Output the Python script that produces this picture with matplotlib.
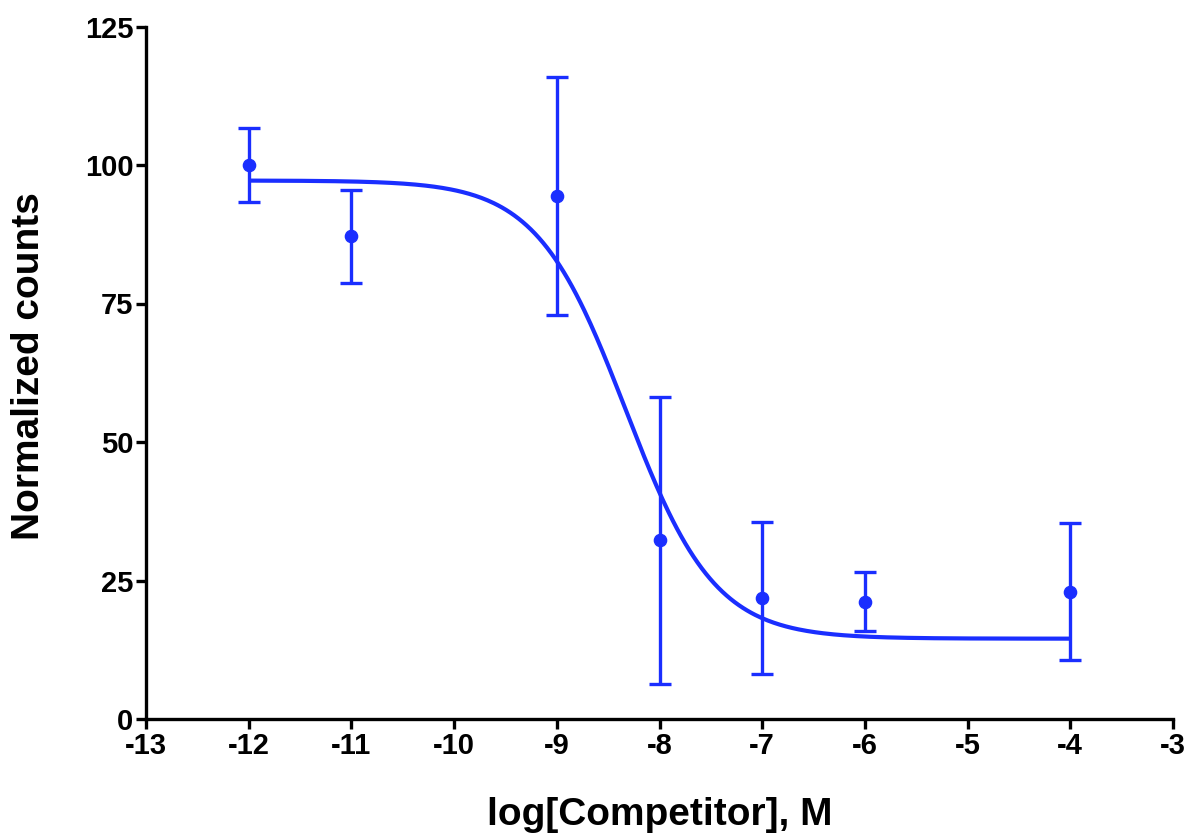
import numpy as np
import matplotlib
matplotlib.use("Agg")
import matplotlib.pyplot as plt

# Data
log_conc = [-12, -11, -9, -8, -7, -6, -4]
mean_counts = [100.0, 87.1, 94.4, 32.3, 21.9, 21.2, 23.0]
err_counts = [6.6, 8.4, 21.4, 25.9, 13.7, 5.3, 12.4]

# Fitted 4-parameter logistic (competition curve) parameters
fit_top = 97.2
fit_bottom = 14.5
fit_logic50 = -8.33
fit_hill = -1.0
fit_range = (-12, -4)

x_ticks = [-13, -12, -11, -10, -9, -8, -7, -6, -5, -4, -3]
y_ticks = [0, 25, 50, 75, 100, 125]

blue = "#1a2eff"

plt.rcParams['font.family'] = ['Liberation Sans', 'DejaVu Sans']
plt.rcParams['font.weight'] = 'bold'

W, H = 1190, 833
fig = plt.figure(figsize=(W / 100, H / 100), dpi=100)
left, right, top, bottom = 146, 1173, 26.5, 719
ax = fig.add_axes([left / W, 1 - bottom / H, (right - left) / W, (bottom - top) / H])

xf = np.linspace(fit_range[0], fit_range[1], 400)
yf = fit_bottom + (fit_top - fit_bottom) / (1 + 10 ** ((fit_logic50 - xf) * fit_hill))
ax.plot(xf, yf, color=blue, lw=3.0, solid_capstyle='butt', zorder=2)

ax.errorbar(log_conc, mean_counts, yerr=err_counts, fmt='o', color=blue,
            ms=8.8, elinewidth=2.4, capsize=8, capthick=2.4, zorder=3,
            clip_on=False)

ax.set_xlim(-13, -3)
ax.set_ylim(0, 125)
ax.set_xticks(x_ticks)
ax.set_yticks(y_ticks)
ax.set_xticklabels([str(t) for t in x_ticks])
ax.set_yticklabels([str(t) for t in y_ticks])

for s in ['top', 'right']:
    ax.spines[s].set_visible(False)
for s in ['left', 'bottom']:
    ax.spines[s].set_linewidth(2.4)
    ax.spines[s].set_color('black')

ax.tick_params(axis='both', direction='out', length=7, width=2.4,
               labelsize=21, pad=2)
for lab in ax.get_xticklabels() + ax.get_yticklabels():
    lab.set_fontweight('bold')

fig.text((left + right) / 2 / W, 1 - 825 / H, 'log[Competitor], M',
         fontsize=28, fontweight='bold', ha='center', va='baseline')
fig.text(29 / W, 1 - 366.5 / H, 'Normalized counts', rotation=90,
         fontsize=28, fontweight='bold', ha='center', va='center')

fig.savefig('out.png', dpi=100)
